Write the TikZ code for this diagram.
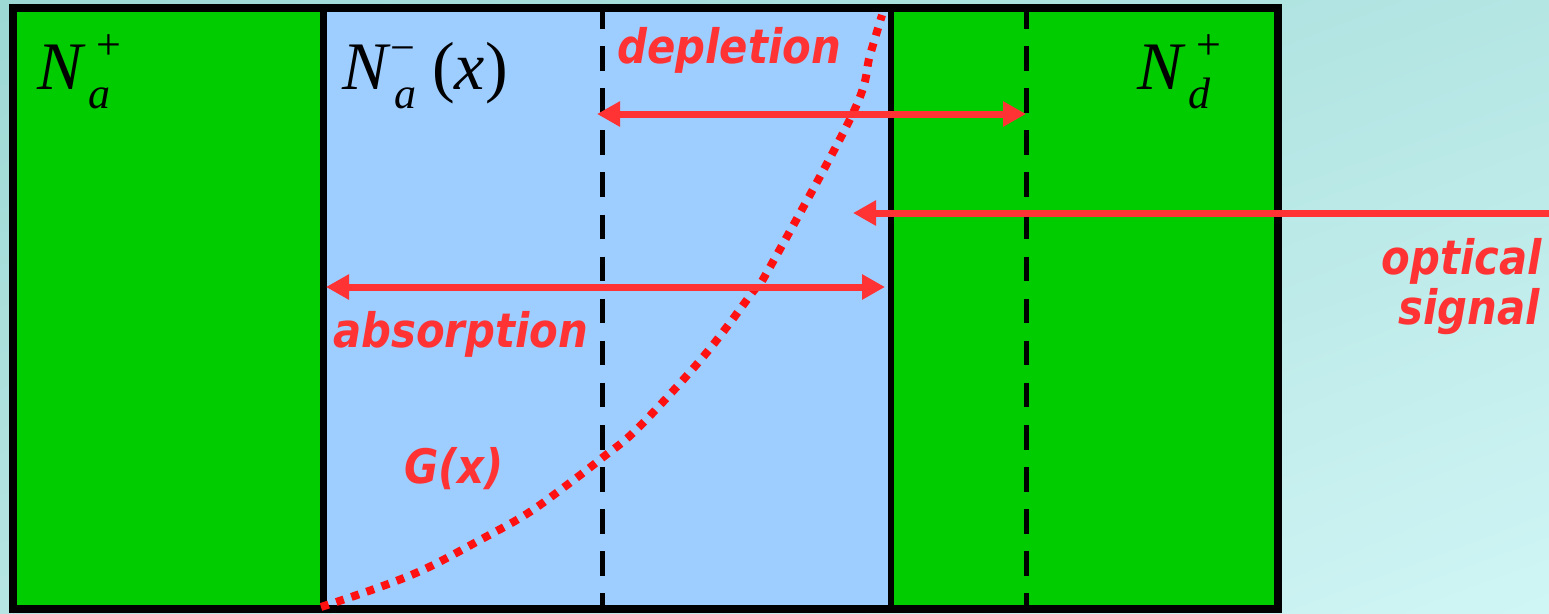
\documentclass[tikz,border=0pt]{standalone}
\usepackage{fontspec}
\setmainfont{Liberation Serif}
\newfontfamily\labfont[FakeStretch=0.88]{DejaVu Sans}
\usetikzlibrary{arrows.meta,shadings}
\definecolor{bgA}{HTML}{9DD8D4}
\definecolor{bgB}{HTML}{B4E6E4}
\definecolor{bgC}{HTML}{B6E5E3}
\definecolor{bgD}{HTML}{D0F5F5}
\definecolor{pgreen}{HTML}{00CC00}
\definecolor{pblue}{HTML}{9ECDFF}
\definecolor{arrred}{HTML}{FF3333}
\definecolor{dotred}{HTML}{FF1111}
\tikzset{
  sym/.style={inner sep=0pt, anchor=base west, font=\fontsize{68}{68}\selectfont\itshape},
  scr/.style={inner sep=0pt, anchor=base west, font=\fontsize{44}{44}\selectfont},
  lab/.style={inner sep=0pt, text=arrred, font=\labfont\fontsize{47.5}{47.5}\selectfont\bfseries\itshape},
  redarrow/.style={draw=arrred, line width=7pt, -{Triangle[length=23pt,width=24pt]}},
  redarrows/.style={draw=arrred, line width=7pt, {Triangle[length=23pt,width=24pt]}-{Triangle[length=23pt,width=24pt]}},
  dashline/.style={line width=5pt, dash pattern=on 24.5pt off 17.6pt},
  wall/.style={line width=7pt},
}
\begin{document}
\begin{tikzpicture}[x=1pt,y=-1pt]
\useasboundingbox (0,0) rectangle (1549,613);
% background
\shade[upper left=bgA, upper right=bgB, lower left=bgC, lower right=bgD] (0,0) rectangle (1549,613);
% regions
\fill[pgreen] (13,8) rectangle (323,609);
\fill[pblue] (323,8) rectangle (891,609);
\fill[pgreen] (891,8) rectangle (1277.5,609);
% dashed boundaries of depletion region
\coordinate (d1t) at (602,4); \coordinate (d1b) at (602,609);
\coordinate (d2t) at (1026,4); \coordinate (d2b) at (1026,609);
\draw[dashline] (d1t) -- (d1b);
\draw[dashline] (d2t) -- (d2b);
% walls
\coordinate (w1t) at (323,8); \coordinate (w1b) at (323,609);
\coordinate (w2t) at (891,8); \coordinate (w2b) at (891,609);
\draw[wall] (w1t) -- (w1b);
\draw[wall, line width=6pt] (w2t) -- (w2b);
% outer frame
\draw[line width=8pt] (13,8) rectangle (1277.5,609);
% G(x) curve
\draw[dotred, line width=8pt, dash pattern=on 8pt off 8pt]
  plot[smooth, tension=0.6] coordinates {(321,607) (380,587) (427,568) (480,540) (525,515) (563,488) (602,458) (638,428) (703,357) (752,293) (770,267) (853,113) (870,55) (882,15)};
% arrows
\coordinate (depL) at (597,114); \coordinate (depR) at (1026,114);
\draw[redarrows] (depL) -- (depR);
\coordinate (absL) at (326,287); \coordinate (absR) at (885,287);
\draw[redarrows] (absL) -- (absR);
\coordinate (optS) at (1549,213); \coordinate (optE) at (853,213);
\draw[redarrow] (optS) -- (optE);
% math labels
\node[sym] (n1) at (37,89) {N};
\node[scr] (n1s) at (96,59) {+};
\node[scr, font=\fontsize{44}{44}\selectfont\itshape] (n1b) at (88,108) {a};
\node[sym] (n2) at (342,89) {N};
\node[scr] (n2s) at (390,62) {−};
\node[scr, font=\fontsize{44}{44}\selectfont\itshape] (n2b) at (394,108) {a};
\node[sym] (n2x) at (432,89) {\upshape(\itshape x\upshape)};
\node[sym] (n3) at (1137,89) {N};
\node[scr] (n3s) at (1196,59) {+};
\node[scr, font=\fontsize{44}{44}\selectfont\itshape] (n3b) at (1188,108) {d};
% text labels
\node[lab, anchor=base west] (dep) at (617,63) {depletion};
\node[lab, anchor=base west] (abs) at (333,347) {absorption};
\node[lab, anchor=base west] (gx) at (404,483) {G(x)};
\node[lab, anchor=base east] (opt1) at (1542,274) {optical};
\node[lab, anchor=base east] (opt2) at (1540,324) {signal};
\end{tikzpicture}
\end{document}
